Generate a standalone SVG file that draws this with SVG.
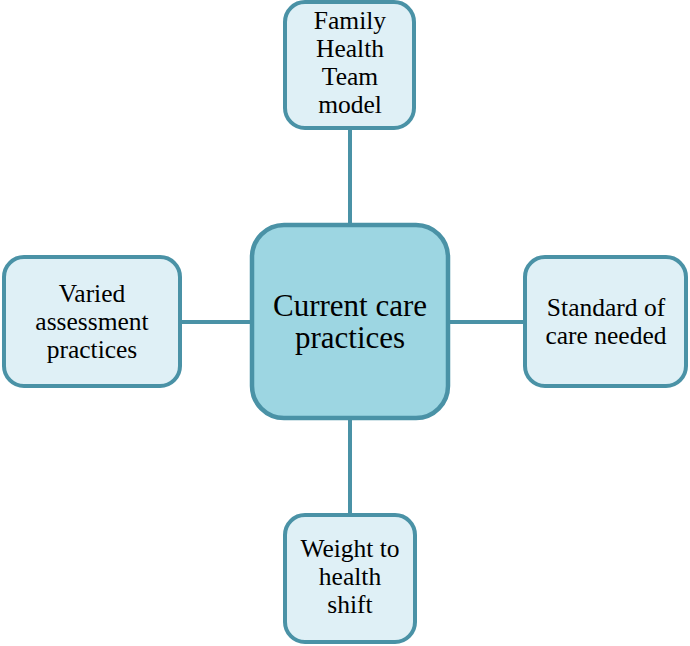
<svg xmlns="http://www.w3.org/2000/svg" width="690" height="646" viewBox="0 0 690 646">
<style>
.box{fill:#dff0f6;stroke:#4a92a6;stroke-width:4}
.main{fill:#9dd6e2;stroke:#4a92a6;stroke-width:4.5}
.ln{stroke:#4a92a6;stroke-width:4;fill:none}
text{fill:#000;text-anchor:middle}
.t{font-size:25.5px}
.c{font-size:31px}
</style>
<rect width="690" height="646" fill="#fff"/>
<g id="connectors">
<line class="ln" x1="350" y1="129" x2="350" y2="224"/>
<line class="ln" x1="350" y1="420" x2="350" y2="515"/>
<line class="ln" x1="181" y1="322" x2="251" y2="322"/>
<line class="ln" x1="449" y1="322" x2="524" y2="322"/>
</g>
<g font-family="Liberation Serif, Times New Roman, DejaVu Serif, serif">
<g id="center">
<rect class="main" x="252" y="225" width="196" height="193" rx="32"/>
<text class="c" x="350" y="316">Current care</text>
<text class="c" x="350" y="348">practices</text>
</g>
<g id="top">
<rect class="box" x="285" y="2" width="129" height="126" rx="20"/>
<text class="t" x="350" y="29">Family</text>
<text class="t" x="350" y="57">Health</text>
<text class="t" x="350" y="85">Team</text>
<text class="t" x="350" y="113">model</text>
</g>
<g id="left">
<rect class="box" x="4" y="257" width="176" height="129" rx="20"/>
<text class="t" x="92" y="302">Varied</text>
<text class="t" x="92" y="330">assessment</text>
<text class="t" x="92" y="358">practices</text>
</g>
<g id="right">
<rect class="box" x="525" y="257" width="161" height="129" rx="20"/>
<text class="t" x="606" y="316">Standard of</text>
<text class="t" x="606" y="344">care needed</text>
</g>
<g id="bottom">
<rect class="box" x="285" y="515" width="130" height="127" rx="20"/>
<text class="t" x="350" y="557">Weight to</text>
<text class="t" x="350" y="585">health</text>
<text class="t" x="350" y="613">shift</text>
</g>
</g>
</svg>
